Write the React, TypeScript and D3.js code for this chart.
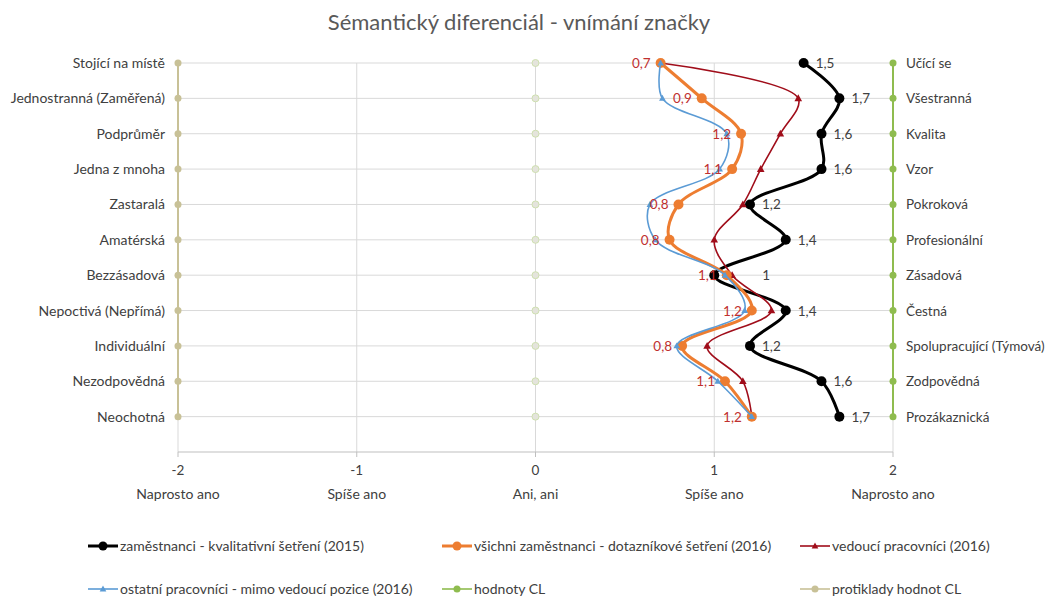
import React from "react";
import * as d3 from "d3";

const leftLabels = ["Stojící na místě","Jednostranná (Zaměřená)","Podprůměr","Jedna z mnoha","Zastaralá","Amatérská","Bezzásadová","Nepoctivá (Nepřímá)","Individuální","Nezodpovědná","Neochotná"];
const rightLabels = ["Učící se","Všestranná","Kvalita","Vzor","Pokroková","Profesionální","Zásadová","Čestná","Spolupracující (Týmová)","Zodpovědná","Prozákaznická"];
const blackVals = [1.5,1.7,1.6,1.6,1.2,1.4,1.0,1.4,1.2,1.6,1.7];
const orangeVals = [0.7,0.93,1.15,1.1,0.8,0.75,1.07,1.21,0.82,1.06,1.21];
const redVals = [0.7,1.47,1.37,1.26,1.16,1.0,1.1,1.32,0.96,1.16,1.21];
const blueVals = [0.7,0.71,1.07,1.03,0.64,0.67,1.06,1.17,0.79,1.02,1.21];
const cl = [2,2,2,2,2,2,2,2,2,2,2];
const antiCl = [-2,-2,-2,-2,-2,-2,-2,-2,-2,-2,-2];
const neutral = [0,0,0,0,0,0,0,0,0,0,0];
const xTicks = [-2,-1,0,1,2];
const xTickNames = ["Naprosto ano","Spíše ano","Ani, ani","Spíše ano","Naprosto ano"];
const legendItems = [
  { name: "zaměstnanci - kvalitativní šetření (2015)", color: "#000000", mark: "circle", w: 3 },
  { name: "všichni zaměstnanci - dotazníkové šetření (2016)", color: "#ed7d31", mark: "circle", w: 3 },
  { name: "vedoucí pracovníci (2016)", color: "#a00d1a", mark: "tri", w: 1.6 },
  { name: "ostatní pracovníci - mimo vedoucí pozice (2016)", color: "#5b9bd5", mark: "tri", w: 1.6 },
  { name: "hodnoty CL", color: "#8fbc4f", mark: "circle", w: 1.6 },
  { name: "protiklady hodnot CL", color: "#c8c197", mark: "circle", w: 1.6 },
];

const FONT = "Lato, 'Open Sans', sans-serif";
const fmt = (v: number) => (Math.round(v * 10) / 10).toString().replace(".", ",");

export default function App() {
  const W = 1053, H = 597;
  const x = d3.scaleLinear().domain([-2, 2]).range([178, 893]);
  const y = d3.scaleLinear().domain([0, 11]).range([452, 63]);
  const yi = (i: number) => y(11 - i);
  const smooth = d3.line<number>().x((d) => x(d)).y((_, i) => yi(i)).curve(d3.curveCatmullRom.alpha(0.5));
  const straight = d3.line<number>().x((d) => x(d)).y((_, i) => yi(i));
  const tri = (cx: number, cy: number, s: number) =>
    `M${cx},${cy - s}L${cx + s * 0.95},${cy + s * 0.7}L${cx - s * 0.95},${cy + s * 0.7}Z`;
  const idx = d3.range(11);
  // black label nudged right where it would collide (row "Bezzásadová")
  const blackLabelDx = (i: number) => (i === 6 ? 48 : 12);

  return (
    <svg width={W} height={H} style={{ position: "absolute", left: 0, top: 0, background: "#fff" }} fontFamily={FONT}>
      <text x={519} y={30} textAnchor="middle" fontSize={22} fill="#595959">Sémantický diferenciál - vnímání značky</text>
      {idx.map((i) => (
        <line key={"h" + i} x1={x(-2)} x2={x(2)} y1={yi(i)} y2={yi(i)} stroke="#d9d9d9" strokeWidth={1} />
      ))}
      {xTicks.map((t) => (
        <line key={"v" + t} x1={x(t)} x2={x(t)} y1={y(11)} y2={y(0)} stroke="#d9d9d9" strokeWidth={1} />
      ))}
      <line x1={x(-2)} x2={x(2)} y1={y(0)} y2={y(0)} stroke="#bfbfbf" strokeWidth={1} />
      {xTicks.map((t, k) => (
        <g key={"t" + t}>
          <line x1={x(t)} x2={x(t)} y1={y(0)} y2={y(0) + 5} stroke="#bfbfbf" />
          <text x={x(t)} y={y(0) + 23} textAnchor="middle" fontSize={13.5} fill="#404040">{t}</text>
          <text x={x(t)} y={y(0) + 47} textAnchor="middle" fontSize={14} fill="#404040">{xTickNames[k]}</text>
        </g>
      ))}
      <path d={straight(antiCl) || ""} fill="none" stroke="#c8c197" strokeWidth={2} />
      <path d={straight(cl) || ""} fill="none" stroke="#8fbc4f" strokeWidth={2} />
      {idx.map((i) => (
        <g key={"m" + i}>
          <circle cx={x(antiCl[i])} cy={yi(i)} r={3.5} fill="#c8c197" />
          <circle cx={x(cl[i])} cy={yi(i)} r={3.5} fill="#8fbc4f" />
          <circle cx={x(neutral[i])} cy={yi(i)} r={3.5} fill="#e4e4dc" stroke="#cfe0b0" strokeWidth={1} />
          <text x={165} y={yi(i) + 5} textAnchor="end" fontSize={14} fill="#404040">{leftLabels[i]}</text>
          <text x={906} y={yi(i) + 5} textAnchor="start" fontSize={13.5} fill="#404040">{rightLabels[i]}</text>
        </g>
      ))}
      <path d={smooth(blackVals) || ""} fill="none" stroke="#000" strokeWidth={3} />
      {blackVals.map((v, i) => <circle key={"b" + i} cx={x(v)} cy={yi(i)} r={5} fill="#000" />)}
      <path d={smooth(redVals) || ""} fill="none" stroke="#a00d1a" strokeWidth={1.6} />
      {redVals.map((v, i) => <path key={"r" + i} d={tri(x(v), yi(i), 4)} fill="#a00d1a" />)}
      <path d={smooth(orangeVals) || ""} fill="none" stroke="#ed7d31" strokeWidth={3} />
      {orangeVals.map((v, i) => <circle key={"o" + i} cx={x(v)} cy={yi(i)} r={5} fill="#ed7d31" />)}
      <path d={smooth(blueVals) || ""} fill="none" stroke="#5b9bd5" strokeWidth={1.6} />
      {blueVals.map((v, i) => <path key={"bl" + i} d={tri(x(v), yi(i), 3.5)} fill="#5b9bd5" />)}
      {blackVals.map((v, i) => (
        <text key={"bt" + i} x={x(v) + blackLabelDx(i)} y={yi(i) + 5} fontSize={13.5} fill="#404040">{fmt(v)}</text>
      ))}
      {orangeVals.map((v, i) => (
        <text key={"ot" + i} x={x(v) - 10} y={yi(i) + 5} textAnchor="end" fontSize={13.5} fill="#c0302f">{fmt(v)}</text>
      ))}
      {legendItems.map((it, k) => {
        const col = k % 3, row = Math.floor(k / 3);
        const lx = [88, 442, 800][col];
        const ly = [546, 589][row];
        return (
          <g key={"lg" + k}>
            <line x1={lx} x2={lx + 30} y1={ly} y2={ly} stroke={it.color} strokeWidth={it.w} />
            {it.mark === "circle" ? (
              <circle cx={lx + 15} cy={ly} r={it.w > 2 ? 4.5 : 3.5} fill={it.color} />
            ) : (
              <path d={tri(lx + 15, ly, 3.5)} fill={it.color} />
            )}
            <text x={lx + 32} y={ly + 5} fontSize={14} fill="#404040">{it.name}</text>
          </g>
        );
      })}
    </svg>
  );
}
